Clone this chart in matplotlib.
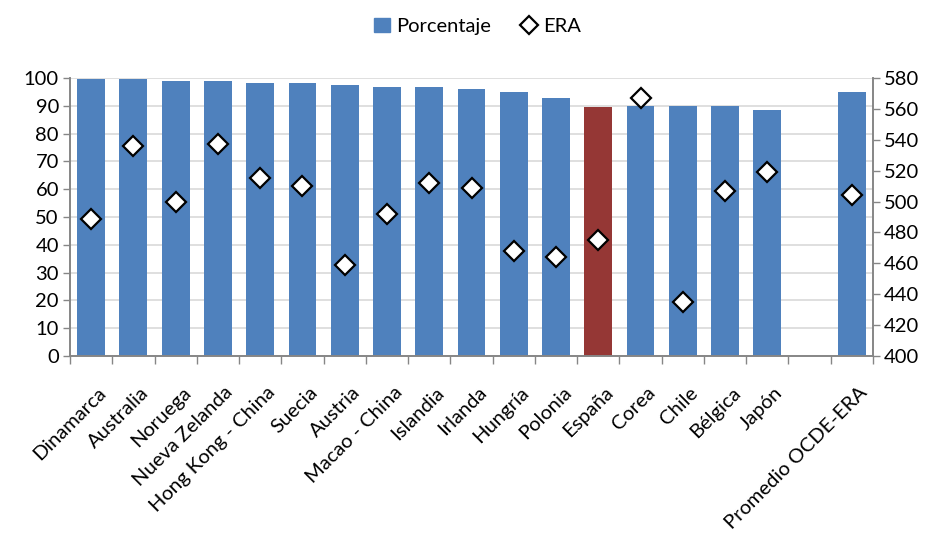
import matplotlib
matplotlib.use("Agg")
import matplotlib.pyplot as plt
import numpy as np
from matplotlib.lines import Line2D
from matplotlib.patches import Patch

plt.rcParams['font.family'] = ['Lato', 'DejaVu Sans']

categories = ["Dinamarca", "Australia", "Noruega", "Nueva Zelanda", "Hong Kong - China",
              "Suecia", "Austria", "Macao - China", "Islandia", "Irlanda", "Hungría",
              "Polonia", "España", "Corea", "Chile", "Bélgica", "Japón", "",
              "Promedio OCDE-ERA"]
porcentaje = [99.5, 99.5, 98.8, 98.8, 98.1, 98.1, 97.4, 96.6, 96.6, 95.9, 95.1,
              92.9, 89.6, 90.0, 90.0, 90.0, 88.6, np.nan, 95.1]
era = [489, 536, 500, 537, 515, 510, 459, 492, 512, 509, 468, 464, 475, 567,
       435, 507, 519, np.nan, 504]
highlight = "España"

blue = "#4F81BD"
red = "#953735"

fig = plt.figure(figsize=(9.33, 5.52), dpi=100)
ax = fig.add_axes([70/933, 1-356/552, (873-70)/933, (356-78)/552])
x = np.arange(len(categories))
colors = [red if c == highlight else blue for c in categories]
ax.bar(x, np.nan_to_num(porcentaje), width=0.66, color=colors, zorder=2)
ax.set_ylim(0, 100)
ax.set_xlim(-0.5, len(categories) - 0.5)
ax.set_yticks(np.arange(0, 101, 10))
ax.yaxis.grid(True, color="#D9D9D9", linewidth=1.2, zorder=0)
ax.set_axisbelow(True)
ax.set_xticks(np.arange(-0.5, len(categories), 1.0), minor=False)
ax.set_xticklabels([])
ax.tick_params(axis='x', direction='out', length=6, color="#868686", width=1)
ax.tick_params(axis='y', direction='out', length=5, color="#868686", width=1,
               labelsize=14.5, pad=3)
for i, c in enumerate(categories):
    ax.text(i + 0.15, -0.1, c, transform=ax.get_xaxis_transform(), rotation=45,
            ha='right', va='top', rotation_mode='anchor', fontsize=14.5)
for s in ['top']:
    ax.spines[s].set_visible(False)
for s in ['left', 'bottom', 'right']:
    ax.spines[s].set_color("#868686")
    ax.spines[s].set_linewidth(1.2)

ax2 = ax.twinx()
ax2.set_ylim(400, 580)
ax2.set_yticks(np.arange(400, 581, 20))
ax2.tick_params(axis='y', direction='out', length=5, color="#868686", width=1,
                labelsize=14.5, pad=3)
ax2.spines['top'].set_visible(False)
for s in ['left', 'bottom', 'right']:
    ax2.spines[s].set_color("#868686")
    ax2.spines[s].set_linewidth(1.2)
ax2.plot(x, era, linestyle='none', marker='D', markersize=10, markerfacecolor='white',
         markeredgecolor='black', markeredgewidth=1.6, zorder=3, clip_on=False)

handles = [Patch(facecolor=blue, edgecolor=blue),
           Line2D([], [], linestyle='none', marker='D', markersize=9,
                  markerfacecolor='white', markeredgecolor='black', markeredgewidth=1.6)]
fig.legend(handles, ["Porcentaje", "ERA"], loc='upper center', bbox_to_anchor=(0.512, 1.0),
           ncol=2, frameon=False, fontsize=14.5, handlelength=0.8, handletextpad=0.3,
           columnspacing=1.5)

fig.savefig("out.png", dpi=100)
